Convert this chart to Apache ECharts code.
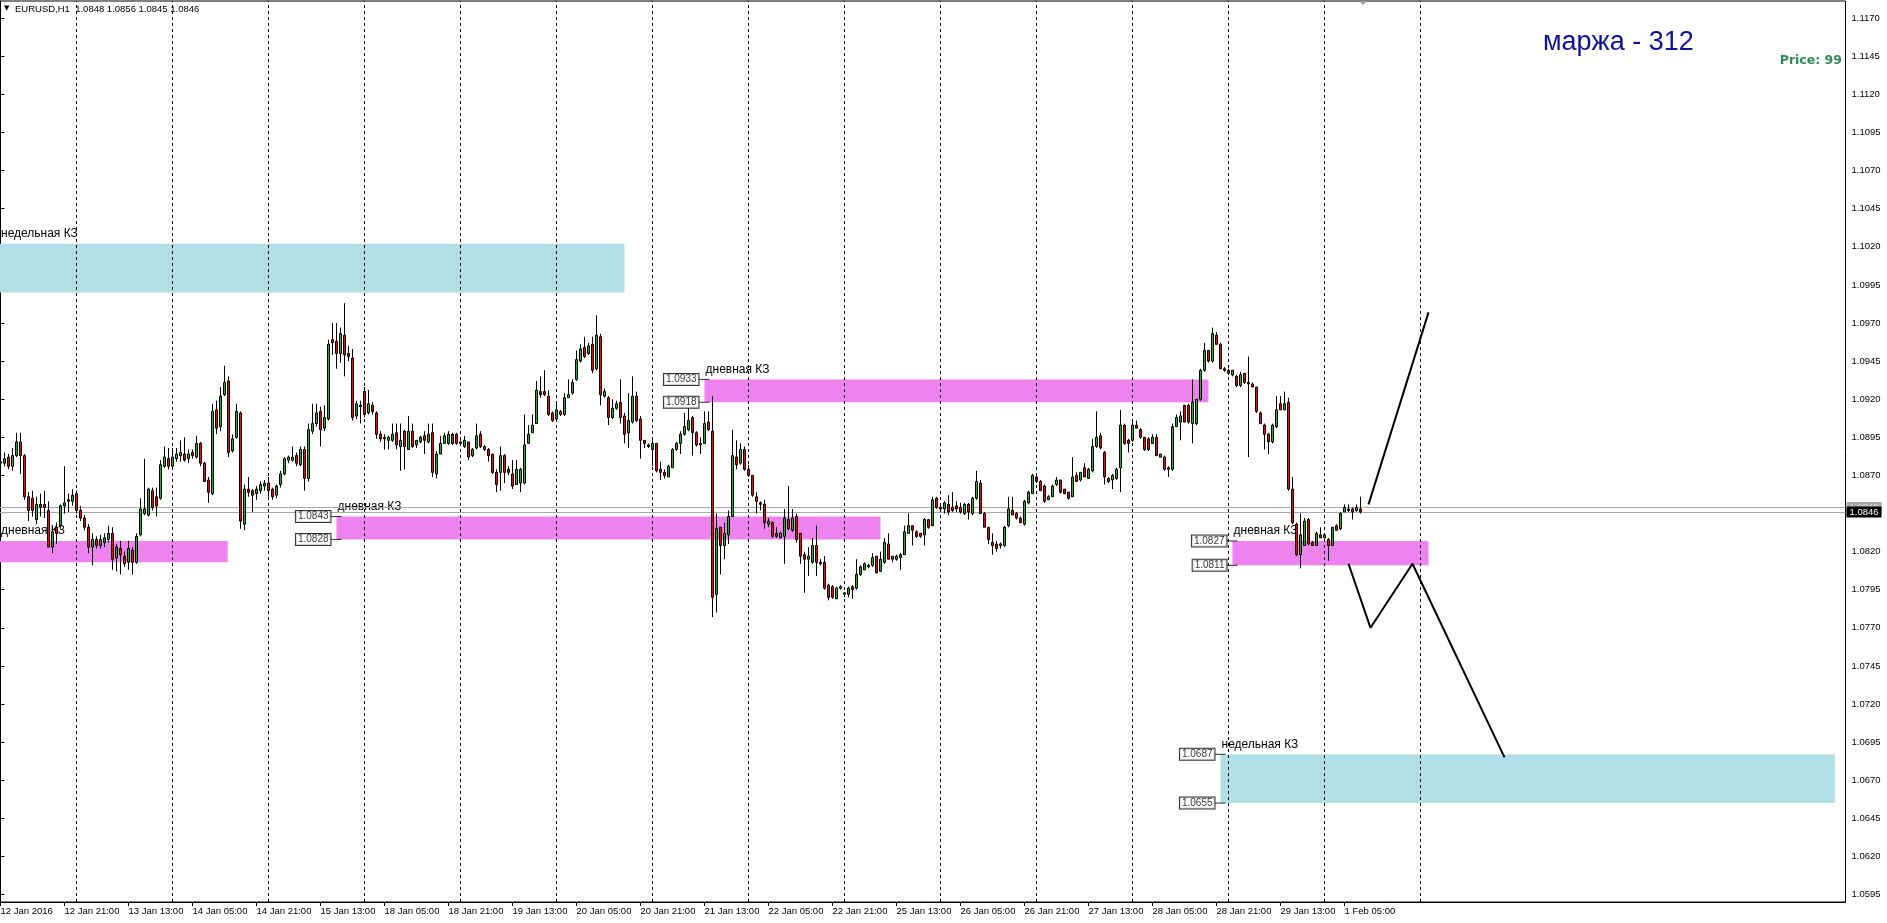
<!DOCTYPE html>
<html>
<head>
<meta charset="utf-8">
<title>EURUSD,H1</title>
<script src="https://cdn.jsdelivr.net/npm/echarts@6/dist/echarts.min.js"></script>
<style>
  html, body { margin: 0; padding: 0; background: #fff; }
  #chart { width: 1887px; height: 923px; }
</style>
</head>
<body>
<div id="chart"></div>
<script>
// EURUSD H1 bars, bar 0 = 12 Jan 2016 05:00 (weekends skipped)
const opens = [
  1.0878,1.0878,1.0882,1.0876,1.0883,1.0892,1.0883,1.0856,1.0855,1.0841,
  1.0851,1.0851,1.0847,1.0823,1.0836,1.0837,1.0850,1.0854,1.0853,1.0858,
  1.0847,1.0842,1.0836,1.0823,1.0828,1.0824,1.0826,1.0828,1.0832,1.0816,
  1.0822,1.0817,1.0813,1.0821,1.0813,1.0831,1.0845,1.0844,1.0860,1.0856,
  1.0855,1.0876,1.0881,1.0876,1.0881,1.0883,1.0884,1.0881,1.0885,1.0882,
  1.0891,1.0878,1.0867,1.0858,1.0913,1.0902,1.0923,1.0932,1.0886,1.0895,
  1.0911,1.0838,1.0861,1.0860,1.0858,1.0860,1.0863,1.0865,1.0861,1.0857,
  1.0864,1.0871,1.0880,1.0880,1.0883,1.0877,1.0887,1.0868,1.0899,1.0904,
  1.0912,1.0901,1.0907,1.0959,1.0958,1.0950,1.0962,1.0950,1.0947,1.0909,
  1.0915,1.0925,1.0911,1.0916,1.0911,1.0897,1.0894,1.0893,1.0893,1.0898,
  1.0889,1.0899,1.0887,1.0899,1.0890,1.0892,1.0896,1.0892,1.0898,1.0871,
  1.0884,1.0891,1.0891,1.0897,1.0897,1.0892,1.0889,1.0892,1.0883,1.0888,
  1.0897,1.0889,1.0887,1.0884,1.0872,1.0872,1.0883,1.0874,1.0871,1.0864,
  1.0865,1.0865,1.0891,1.0898,1.0904,1.0925,1.0925,1.0922,1.0911,1.0907,
  1.0912,1.0910,1.0921,1.0924,1.0933,1.0945,1.0954,1.0950,1.0956,1.0940,
  1.0961,1.0922,1.0921,1.0908,1.0914,1.0918,1.0909,1.0898,1.0905,1.0922,
  1.0907,1.0893,1.0890,1.0887,1.0891,1.0874,1.0872,1.0869,1.0875,1.0887,
  1.0891,1.0897,1.0900,1.0908,1.0898,1.0891,1.0891,1.0905,1.0899,1.0792,
  1.0836,1.0824,1.0831,1.0843,1.0882,1.0878,1.0887,1.0874,1.0870,1.0856,
  1.0852,1.0851,1.0838,1.0839,1.0832,1.0829,1.0830,1.0841,1.0834,1.0843,
  1.0832,1.0818,1.0815,1.0813,1.0824,1.0813,1.0813,1.0798,1.0797,1.0789,
  1.0796,1.0792,1.0792,1.0797,1.0796,1.0805,1.0808,1.0810,1.0811,1.0817,
  1.0807,1.0813,1.0825,1.0817,1.0815,1.0816,1.0818,1.0832,1.0837,1.0833,
  1.0832,1.0831,1.0841,1.0837,1.0855,1.0849,1.0848,1.0851,1.0849,1.0850,
  1.0849,1.0845,1.0851,1.0845,1.0855,1.0865,1.0845,1.0836,1.0826,1.0825,
  1.0824,1.0824,1.0837,1.0847,1.0845,1.0842,1.0838,1.0852,1.0858,1.0869,
  1.0866,1.0863,1.0854,1.0856,1.0864,1.0867,1.0861,1.0859,1.0856,1.0870,
  1.0867,1.0875,1.0868,1.0873,1.0889,1.0896,1.0885,1.0868,1.0867,1.0868,
  1.0875,1.0903,1.0893,1.0893,1.0903,1.0900,1.0895,1.0894,1.0891,1.0895,
  1.0882,1.0882,1.0874,1.0874,1.0902,1.0905,1.0916,1.0916,1.0904,1.0904,
  1.0920,1.0939,1.0952,1.0945,1.0962,1.0956,1.0940,1.0939,1.0936,1.0935,
  1.0929,1.0937,1.0931,1.0930,1.0928,1.0911,1.0903,1.0897,1.0892,1.0902,
  1.0917,1.0913,1.0918,1.0861,1.0838,1.0818,1.0824,1.0841,1.0826,1.0824,
  1.0831,1.0829,1.0828,1.0824,1.0837,1.0835,1.0846,1.0848,1.0848,1.0847,
  1.0848
];
const highs = [
  1.0884,1.0885,1.0884,1.0888,1.0898,1.0898,1.0884,1.0859,1.0860,1.0856,
  1.0858,1.0860,1.0853,1.0836,1.0839,1.0851,1.0876,1.0858,1.0861,1.0860,
  1.0850,1.0844,1.0838,1.0832,1.0830,1.0831,1.0832,1.0837,1.0836,1.0825,
  1.0827,1.0820,1.0827,1.0823,1.0832,1.0855,1.0881,1.0862,1.0862,1.0862,
  1.0880,1.0889,1.0888,1.0888,1.0888,1.0893,1.0895,1.0887,1.0887,1.0896,
  1.0892,1.0879,1.0869,1.0917,1.0919,1.0928,1.0942,1.0935,1.0897,1.0917,
  1.0912,1.0864,1.0869,1.0861,1.0863,1.0866,1.0867,1.0869,1.0862,1.0864,
  1.0873,1.0882,1.0883,1.0889,1.0885,1.0889,1.0889,1.0904,1.0917,1.0917,
  1.0915,1.0916,1.0959,1.0970,1.0970,1.0967,1.0983,1.0955,1.0953,1.0919,
  1.0919,1.0928,1.0926,1.0918,1.0912,1.0899,1.0897,1.0896,1.0904,1.0904,
  1.0904,1.0900,1.0909,1.0904,1.0893,1.0896,1.0899,1.0904,1.0904,1.0886,
  1.0896,1.0898,1.0899,1.0898,1.0898,1.0893,1.0896,1.0892,1.0888,1.0904,
  1.0899,1.0890,1.0888,1.0884,1.0874,1.0889,1.0884,1.0876,1.0880,1.0880,
  1.0875,1.0910,1.0903,1.0910,1.0932,1.0935,1.0939,1.0926,1.0912,1.0918,
  1.0913,1.0924,1.0933,1.0933,1.0952,1.0956,1.0961,1.0957,1.0961,1.0975,
  1.0963,1.0927,1.0922,1.0920,1.0919,1.0933,1.0911,1.0924,1.0935,1.0925,
  1.0909,1.0893,1.0891,1.0895,1.0891,1.0879,1.0874,1.0877,1.0888,1.0892,
  1.0899,1.0911,1.0914,1.0909,1.0899,1.0895,1.0912,1.0912,1.0922,1.0845,
  1.0836,1.0839,1.0847,1.0900,1.0893,1.0891,1.0889,1.0877,1.0870,1.0859,
  1.0853,1.0854,1.0842,1.0840,1.0836,1.0833,1.0848,1.0863,1.0848,1.0845,
  1.0832,1.0820,1.0823,1.0829,1.0837,1.0815,1.0817,1.0799,1.0798,1.0797,
  1.0798,1.0793,1.0797,1.0798,1.0815,1.0811,1.0813,1.0812,1.0819,1.0817,
  1.0820,1.0829,1.0832,1.0817,1.0818,1.0819,1.0837,1.0845,1.0837,1.0834,
  1.0832,1.0842,1.0841,1.0856,1.0856,1.0851,1.0853,1.0857,1.0859,1.0853,
  1.0852,1.0852,1.0852,1.0856,1.0873,1.0867,1.0846,1.0836,1.0832,1.0827,
  1.0826,1.0837,1.0856,1.0856,1.0846,1.0843,1.0854,1.0860,1.0871,1.0870,
  1.0867,1.0864,1.0857,1.0864,1.0869,1.0867,1.0861,1.0859,1.0882,1.0872,
  1.0872,1.0878,1.0875,1.0894,1.0912,1.0898,1.0886,1.0869,1.0871,1.0875,
  1.0913,1.0904,1.0894,1.0905,1.0906,1.0901,1.0895,1.0895,1.0897,1.0897,
  1.0884,1.0883,1.0876,1.0904,1.0910,1.0912,1.0916,1.0917,1.0933,1.0920,
  1.0940,1.0957,1.0952,1.0967,1.0964,1.0957,1.0941,1.0940,1.0939,1.0936,
  1.0938,1.0937,1.0948,1.0931,1.0928,1.0912,1.0904,1.0898,1.0904,1.0922,
  1.0922,1.0925,1.0921,1.0869,1.0839,1.0845,1.0842,1.0842,1.0827,1.0833,
  1.0836,1.0832,1.0829,1.0836,1.0838,1.0846,1.0851,1.0851,1.0849,1.0851,
  1.0856
];
const lows = [
  1.0871,1.0876,1.0874,1.0873,1.0882,1.0871,1.0854,1.0840,1.0843,1.0838,
  1.0843,1.0842,1.0823,1.0819,1.0825,1.0835,1.0845,1.0846,1.0850,1.0845,
  1.0840,1.0834,1.0819,1.0811,1.0822,1.0822,1.0823,1.0826,1.0808,1.0807,
  1.0805,1.0810,1.0808,1.0805,1.0812,1.0830,1.0844,1.0843,1.0847,1.0843,
  1.0854,1.0875,1.0874,1.0874,1.0879,1.0879,1.0879,1.0878,1.0881,1.0881,
  1.0876,1.0866,1.0852,1.0857,1.0897,1.0899,1.0922,1.0882,1.0885,1.0894,
  1.0835,1.0834,1.0856,1.0846,1.0854,1.0858,1.0860,1.0856,1.0854,1.0855,
  1.0862,1.0870,1.0878,1.0879,1.0876,1.0876,1.0860,1.0866,1.0897,1.0902,
  1.0889,1.0899,1.0906,1.0949,1.0940,1.0944,1.0935,1.0945,1.0906,1.0907,
  1.0904,1.0908,1.0910,1.0910,1.0894,1.0892,1.0887,1.0887,1.0892,1.0887,
  1.0873,1.0874,1.0887,1.0888,1.0888,1.0891,1.0884,1.0891,1.0869,1.0868,
  1.0884,1.0891,1.0890,1.0890,1.0890,1.0890,1.0888,1.0880,1.0882,1.0887,
  1.0888,1.0886,1.0879,1.0871,1.0859,1.0860,1.0865,1.0870,1.0861,1.0864,
  1.0859,1.0864,1.0891,1.0898,1.0904,1.0921,1.0922,1.0909,1.0905,1.0907,
  1.0909,1.0909,1.0921,1.0923,1.0932,1.0944,1.0947,1.0949,1.0937,1.0939,
  1.0916,1.0921,1.0903,1.0907,1.0913,1.0904,1.0891,1.0888,1.0904,1.0905,
  1.0881,1.0888,1.0888,1.0876,1.0872,1.0867,1.0868,1.0869,1.0875,1.0886,
  1.0884,1.0896,1.0899,1.0883,1.0889,1.0884,1.0891,1.0899,1.0777,1.0780,
  1.0805,1.0815,1.0825,1.0843,1.0874,1.0877,1.0873,1.0869,1.0856,1.0845,
  1.0847,1.0835,1.0836,1.0829,1.0829,1.0829,1.0812,1.0834,1.0833,1.0826,
  1.0812,1.0793,1.0804,1.0812,1.0804,1.0811,1.0795,1.0788,1.0789,1.0789,
  1.0795,1.0790,1.0790,1.0789,1.0795,1.0804,1.0808,1.0809,1.0810,1.0806,
  1.0807,1.0812,1.0815,1.0813,1.0814,1.0808,1.0818,1.0832,1.0824,1.0829,
  1.0829,1.0824,1.0835,1.0837,1.0848,1.0848,1.0845,1.0844,1.0846,1.0846,
  1.0845,1.0844,1.0841,1.0844,1.0854,1.0845,1.0836,1.0825,1.0818,1.0820,
  1.0822,1.0823,1.0836,1.0844,1.0841,1.0839,1.0837,1.0851,1.0858,1.0865,
  1.0860,1.0852,1.0854,1.0856,1.0863,1.0858,1.0858,1.0854,1.0856,1.0866,
  1.0866,1.0869,1.0868,1.0872,1.0888,1.0887,1.0864,1.0865,1.0861,1.0867,
  1.0859,1.0890,1.0885,1.0892,1.0901,1.0894,1.0886,1.0886,1.0891,1.0883,
  1.0882,1.0873,1.0869,1.0873,1.0902,1.0893,1.0905,1.0904,1.0891,1.0903,
  1.0919,1.0938,1.0944,1.0944,1.0956,1.0940,1.0938,1.0936,1.0935,1.0928,
  1.0928,1.0930,1.0882,1.0928,1.0911,1.0904,1.0887,1.0884,1.0891,1.0901,
  1.0913,1.0913,1.0860,1.0838,1.0817,1.0809,1.0824,1.0824,1.0824,1.0824,
  1.0829,1.0829,1.0814,1.0824,1.0834,1.0834,1.0846,1.0846,1.0841,1.0846,
  1.0845
];
const closes = [
  1.0879,1.0881,1.0876,1.0883,1.0892,1.0883,1.0856,1.0847,1.0847,1.0851,
  1.0849,1.0849,1.0823,1.0833,1.0832,1.0850,1.0852,1.0853,1.0857,1.0847,
  1.0842,1.0836,1.0823,1.0828,1.0824,1.0828,1.0829,1.0832,1.0815,1.0823,
  1.0818,1.0812,1.0822,1.0813,1.0830,1.0848,1.0848,1.0861,1.0849,1.0850,
  1.0877,1.0882,1.0876,1.0882,1.0884,1.0885,1.0880,1.0884,1.0883,1.0891,
  1.0878,1.0866,1.0859,1.0912,1.0901,1.0922,1.0931,1.0885,1.0894,1.0912,
  1.0840,1.0861,1.0859,1.0857,1.0861,1.0864,1.0865,1.0860,1.0856,1.0863,
  1.0871,1.0881,1.0882,1.0882,1.0878,1.0887,1.0868,1.0900,1.0904,1.0911,
  1.0900,1.0908,1.0956,1.0957,1.0950,1.0963,1.0949,1.0948,1.0908,1.0917,
  1.0916,1.0910,1.0917,1.0912,1.0897,1.0894,1.0895,1.0895,1.0897,1.0890,
  1.0893,1.0889,1.0899,1.0889,1.0893,1.0895,1.0893,1.0897,1.0872,1.0884,
  1.0891,1.0896,1.0897,1.0891,1.0891,1.0891,1.0893,1.0882,1.0887,1.0896,
  1.0889,1.0887,1.0883,1.0872,1.0864,1.0883,1.0872,1.0872,1.0863,1.0874,
  1.0874,1.0890,1.0897,1.0903,1.0926,1.0923,1.0923,1.0910,1.0906,1.0913,
  1.0910,1.0921,1.0923,1.0931,1.0946,1.0953,1.0948,1.0955,1.0939,1.0962,
  1.0923,1.0925,1.0908,1.0914,1.0917,1.0908,1.0897,1.0906,1.0922,1.0906,
  1.0893,1.0891,1.0889,1.0891,1.0873,1.0872,1.0870,1.0876,1.0887,1.0891,
  1.0897,1.0902,1.0906,1.0898,1.0890,1.0890,1.0904,1.0900,1.0790,1.0835,
  1.0824,1.0832,1.0843,1.0883,1.0877,1.0887,1.0874,1.0870,1.0857,1.0853,
  1.0851,1.0839,1.0840,1.0830,1.0830,1.0832,1.0842,1.0835,1.0842,1.0828,
  1.0817,1.0815,1.0817,1.0824,1.0813,1.0812,1.0796,1.0790,1.0790,1.0796,
  1.0797,1.0793,1.0796,1.0795,1.0805,1.0810,1.0812,1.0811,1.0816,1.0806,
  1.0815,1.0826,1.0815,1.0815,1.0817,1.0818,1.0833,1.0837,1.0834,1.0830,
  1.0830,1.0841,1.0836,1.0854,1.0849,1.0848,1.0852,1.0846,1.0847,1.0848,
  1.0846,1.0851,1.0846,1.0855,1.0866,1.0845,1.0836,1.0828,1.0824,1.0822,
  1.0825,1.0836,1.0848,1.0844,1.0842,1.0839,1.0853,1.0859,1.0870,1.0866,
  1.0860,1.0853,1.0856,1.0863,1.0867,1.0859,1.0858,1.0855,1.0869,1.0866,
  1.0872,1.0869,1.0874,1.0889,1.0895,1.0888,1.0869,1.0866,1.0870,1.0874,
  1.0903,1.0891,1.0891,1.0903,1.0901,1.0895,1.0887,1.0887,1.0895,1.0883,
  1.0884,1.0874,1.0875,1.0902,1.0908,1.0909,1.0905,1.0905,1.0918,1.0920,
  1.0939,1.0952,1.0945,1.0963,1.0956,1.0940,1.0939,1.0937,1.0939,1.0929,
  1.0936,1.0931,1.0930,1.0928,1.0912,1.0904,1.0897,1.0892,1.0903,1.0913,
  1.0913,1.0917,1.0861,1.0839,1.0818,1.0831,1.0840,1.0825,1.0824,1.0832,
  1.0829,1.0831,1.0824,1.0836,1.0834,1.0845,1.0849,1.0847,1.0846,1.0849,
  1.0846
];

// time axis labels (every 16 bars) and the bars they sit on
const timeLabels = ['12 Jan 2016', '12 Jan 21:00', '13 Jan 13:00', '14 Jan 05:00', '14 Jan 21:00',
  '15 Jan 13:00', '18 Jan 05:00', '18 Jan 21:00', '19 Jan 13:00', '20 Jan 05:00', '20 Jan 21:00',
  '21 Jan 13:00', '22 Jan 05:00', '22 Jan 21:00', '25 Jan 13:00', '26 Jan 05:00', '26 Jan 21:00',
  '27 Jan 13:00', '28 Jan 05:00', '28 Jan 21:00', '29 Jan 13:00', '1 Feb 05:00'];
const timeLabelBars = [0, 16, 32, 48, 64, 80, 96, 112, 128, 144, 160, 176, 192, 208, 224, 240,
  256, 272, 288, 304, 320, 336];
// day separators (00:00 bars)
const daySeparators = [19, 43, 67, 91, 115, 139, 163, 187, 211, 235, 259, 283, 307, 331, 355];
// price scale labels (1.0845 is hidden by the current price tag)
const priceTicks = [1.0595, 1.0620, 1.0645, 1.0670, 1.0695, 1.0720, 1.0745, 1.0770, 1.0795, 1.0820,
  1.0870, 1.0895, 1.0920, 1.0945, 1.0970, 1.0995, 1.1020, 1.1045, 1.1070, 1.1095, 1.1120, 1.1145, 1.1170];

// zones: [fromBar (null = chart start), toBar, top price, bottom price]
const weeklyZones = [[null, 156, 1.1022, 1.0990], [305, 458.6, 1.0687, 1.0655]];
const dailyZones = [[null, 56.8, 1.0827, 1.0813], [84, 220, 1.0843, 1.0828],
  [176, 302, 1.0933, 1.0918], [308, 357, 1.0827, 1.0811]];
const weeklyName = 'недельная КЗ';
const dailyName = 'дневная КЗ';

// hand drawn forecast lines [bar, price]
const forecastUp = [[342, 1.0851], [357, 1.0977]];
const forecastZigzag = [[337, 1.0812], [342.5, 1.0770], [353, 1.0812], [376, 1.0685]];

const bidPrice = 1.0846;
const askPrice = 1.0849;
const marginText = 'маржа - 312';
const priceText = 'Price: 99';

const FONT = '"Liberation Sans", Arial, sans-serif';

const candles = opens.map((o, i) => [i, o, closes[i], lows[i], highs[i]]);
const last = opens.length - 1;
const headerText = 'EURUSD,H1  ' + [opens[last], highs[last], lows[last], closes[last]]
  .map((v) => v.toFixed(4)).join(' ');

function zoneItems(zones, name) {
  return zones.map((z) => {
    const a = { name: name, yAxis: z[2] };
    if (z[0] !== null) a.xAxis = z[0];
    return [a, { xAxis: z[1], yAxis: z[3] }];
  });
}
const priceTags = [];
weeklyZones.concat(dailyZones).forEach((z) => {
  if (z[0] === null) return;
  priceTags.push([z[0], z[2]], [z[0], z[3]]);
});

function priceLine(price, z, bg, fg) {
  return {
    type: 'line',
    data: [],
    clip: false,
    markLine: {
      silent: true,
      z: z,
      precision: 4,
      symbol: ['none', 'none'],
      lineStyle: { color: '#a8a8a8', width: 1, type: 'solid' },
      label: {
        show: true, position: 'end', distance: 1,
        formatter: (p) => Number(p.value).toFixed(4),
        backgroundColor: bg, color: fg,
        padding: [1, 3, 0, 3], fontSize: 9.5, fontFamily: FONT
      },
      data: [{ yAxis: price }]
    }
  };
}

const chart = echarts.init(document.getElementById('chart'));
chart.setOption({
  animation: false,
  backgroundColor: '#fff',
  grid: {
    left: 0, right: 41.5, top: 1, bottom: 21,
    show: true, borderColor: '#000', borderWidth: 1,
    outerBoundsMode: 'none'
  },
  xAxis: {
    type: 'value',
    min: -0.125,
    max: 461.25,
    splitLine: { show: false },
    axisLine: { onZero: false, lineStyle: { color: '#000', width: 1 } },
    axisTick: { customValues: timeLabelBars, length: 4, lineStyle: { color: '#000' } },
    axisLabel: {
      customValues: timeLabelBars,
      formatter: (v) => timeLabels[timeLabelBars.indexOf(Math.round(v))] || '',
      align: 'left',
      margin: 4,
      color: '#000',
      fontSize: 9.5,
      fontFamily: FONT
    }
  },
  yAxis: {
    type: 'value',
    position: 'right',
    min: 1.059008,
    max: 1.118129,
    splitLine: { show: false },
    axisLine: { show: true, lineStyle: { color: '#000', width: 1 } },
    axisTick: { show: true, customValues: priceTicks, length: 4, lineStyle: { color: '#000' } },
    axisLabel: {
      customValues: priceTicks,
      formatter: (v) => v.toFixed(4),
      margin: 6,
      color: '#000',
      fontSize: 9.5,
      fontFamily: FONT
    }
  },
  graphic: [
    { type: 'text', left: 4, top: 5, style: { text: '▼', fontSize: 7, fontFamily: 'DejaVu Sans', fill: '#000' } },
    { type: 'text', left: 15, top: 4, style: { text: headerText, fontSize: 9.5, fontFamily: FONT, fill: '#000' } },
    { type: 'text', x: 1543, y: 42.5, style: { text: marginText, fontSize: 27, fontFamily: FONT, fill: '#10109a', verticalAlign: 'middle' } },
    { type: 'text', x: 1842, y: 60.5, style: { text: priceText, fontSize: 12.5, fontWeight: 'bold', fontFamily: 'DejaVu Sans', fill: '#2e8b57', align: 'right', verticalAlign: 'middle' } },
    { type: 'polygon', shape: { points: [[1359, 1], [1367, 1], [1363, 5]] }, style: { fill: '#a0a0a0' } }
  ],
  series: [
    {
      name: 'zones',
      type: 'line',
      data: [],
      z: 1,
      markArea: {
        silent: true,
        z: 1,
        label: {
          show: true,
          position: [1, -16],
          color: '#000',
          fontSize: 12,
          fontFamily: FONT
        },
        data: zoneItems(weeklyZones, weeklyName).map((d) => {
          d[0].itemStyle = { color: '#b0e0e6', opacity: 1 };
          return d;
        }).concat(zoneItems(dailyZones, dailyName).map((d) => {
          d[0].itemStyle = { color: '#ee82ee', opacity: 1 };
          return d;
        }))
      }
    },
    {
      name: 'separators',
      type: 'line',
      data: [],
      markLine: {
        silent: true,
        z: 1.5,
        symbol: ['none', 'none'],
        label: { show: false },
        lineStyle: { color: '#000', width: 1, type: [3, 3] },
        emphasis: { disabled: true },
        data: daySeparators.map((b) => ({ xAxis: b }))
      }
    },
    Object.assign({ name: 'ask' }, priceLine(askPrice, 1.6, '#a8a8a8', '#d8d8d8')),
    Object.assign({ name: 'bid' }, priceLine(bidPrice, 1.7, '#000', '#fff')),
    {
      name: 'EURUSD,H1',
      type: 'candlestick',
      z: 3,
      data: candles,
      encode: { x: 0, y: [1, 2, 3, 4] },
      barWidth: 2,
      itemStyle: {
        color: '#22b022',
        color0: '#ff0000',
        borderColor: '#000',
        borderColor0: '#000',
        borderColorDoji: '#000',
        borderWidth: 1
      }
    },
    {
      name: 'forecast up',
      type: 'line',
      z: 4,
      data: forecastUp,
      symbol: 'none',
      lineStyle: { color: '#000', width: 2 }
    },
    {
      name: 'forecast zigzag',
      type: 'line',
      z: 4,
      data: forecastZigzag,
      symbol: 'none',
      lineStyle: { color: '#000', width: 2 }
    },
    {
      name: 'zone prices',
      type: 'scatter',
      z: 5,
      data: priceTags,
      symbol: 'rect',
      symbolSize: [11, 1],
      symbolOffset: [-0.5, 0],
      itemStyle: { color: '#000' },
      label: {
        show: true,
        position: 'left',
        distance: 0,
        formatter: (p) => p.value[1].toFixed(4),
        backgroundColor: '#fff',
        borderColor: '#000',
        borderWidth: 1,
        padding: [1, 2, 0, 2],
        color: '#000',
        fontSize: 10,
        fontFamily: FONT
      }
    }
  ]
});
</script>
</body>
</html>
